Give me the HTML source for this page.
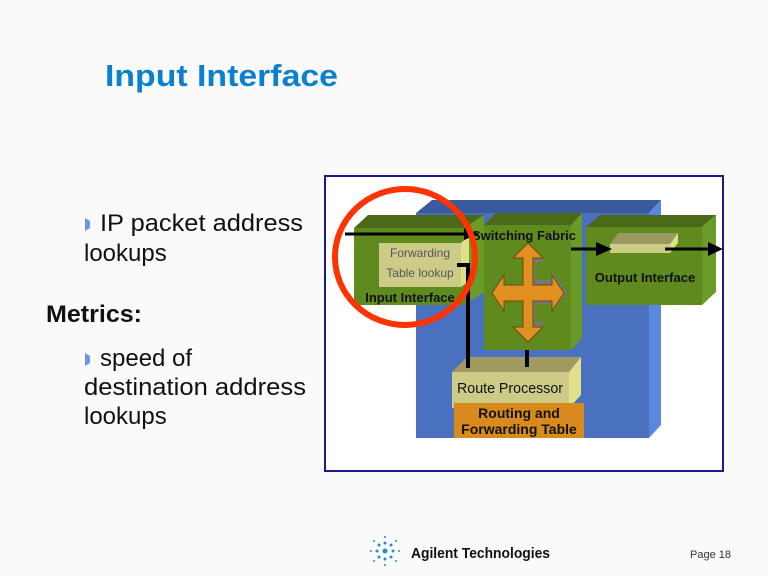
<!DOCTYPE html>
<html><head><style>
html,body{margin:0;padding:0;background:#fafafa;}
svg{display:block;}
</style></head><body>
<svg width="768" height="576" viewBox="0 0 768 576" xmlns="http://www.w3.org/2000/svg" font-family="Liberation Sans, sans-serif">
<rect width="768" height="576" fill="#fafafa"/>
<text x="105" y="86" font-size="31" font-weight="bold" fill="#0a80d0" textLength="233" lengthAdjust="spacingAndGlyphs">Input Interface</text>
<g font-size="24" fill="#111">
<path d="M85 218 L90 221 L90 228 L85 231 Z" fill="#6a9ae0"/>
<text x="100" y="231" textLength="203" lengthAdjust="spacingAndGlyphs">IP packet address</text>
<text x="84" y="261">lookups</text>
<text x="46" y="322" font-weight="bold" font-size="24" textLength="96" lengthAdjust="spacingAndGlyphs">Metrics:</text>
<path d="M85 353 L90 356 L90 363 L85 366 Z" fill="#6a9ae0"/>
<text x="100" y="366">speed of</text>
<text x="84" y="395" textLength="222" lengthAdjust="spacingAndGlyphs">destination address</text>
<text x="84" y="424">lookups</text>
</g>
<rect x="325" y="176" width="398" height="295" fill="#fff" stroke="#1a1a8a" stroke-width="2"/>
<polygon points="416,213 432,200 661,200 649,213" fill="#3a5a9e"/>
<polygon points="649,213 661,200 661,425 649,438" fill="#5a88e0"/>
<rect x="416" y="213" width="233" height="225" fill="#4a70c0"/>
<polygon points="354,228 368,215 484,215 470,228" fill="#4a6a1a"/>
<polygon points="464,228 484,215 484,292 464,305" fill="#6a9a28"/>
<rect x="354" y="228" width="112" height="77" fill="#5e8a1e"/>
<polygon points="461,243 469,236 469,281 461,287" fill="#e0e08a"/>
<rect x="379" y="243" width="82" height="44" fill="#cccc88"/>
<text x="420" y="257" font-size="12" fill="#555" text-anchor="middle">Forwarding</text>
<text x="420" y="277" font-size="12" fill="#555" text-anchor="middle">Table lookup</text>
<text x="410" y="302" font-size="13" font-weight="bold" fill="#111" text-anchor="middle">Input Interface</text>
<polygon points="484,225 496,213 582,213 571,225" fill="#4a6a1a"/>
<polygon points="571,225 582,213 582,338 571,350" fill="#6a9a28"/>
<rect x="484" y="225" width="87" height="125" fill="#5e8a1e"/>
<text x="524" y="240" font-size="13" font-weight="bold" fill="#111" text-anchor="middle">Switching Fabric</text>
<polygon points="533,248 545,262 535,262 535,280 552,280 552,272 567,292 552,312 552,304 535,304 535,322 545,322 533,336" fill="#777"/>
<polygon points="528,243 543,258 533,258 533,285 552,285 552,275 564,293 552,311 552,301 533,301 533,327 543,327 528,342 513,327 523,327 523,301 504,301 504,311 492,293 504,275 504,285 523,285 523,258 513,258" fill="#e09020" stroke="#6a4a10" stroke-width="1"/>
<polygon points="586,227 600,215 716,215 702,227" fill="#4a6a1a"/>
<polygon points="702,227 716,215 716,292 702,305" fill="#6a9a28"/>
<rect x="586" y="227" width="116" height="78" fill="#5e8a1e"/>
<polygon points="610,244 618,233 678,233 670,244" fill="#9a9a60"/>
<polygon points="670,244 678,233 678,243 670,253" fill="#e0e08a"/>
<rect x="610" y="244" width="60" height="9" fill="#cccc88"/>
<text x="645" y="282" font-size="13" font-weight="bold" fill="#111" text-anchor="middle">Output Interface</text>
<polygon points="452,372 467,357 581,357 569,372" fill="#a09a60"/>
<polygon points="569,372 581,357 581,395 569,408" fill="#e0e08a"/>
<rect x="452" y="372" width="117" height="36" fill="#cccc88"/>
<text x="510" y="393" font-size="15" fill="#111" text-anchor="middle" textLength="106" lengthAdjust="spacingAndGlyphs">Route Processor</text>
<rect x="454" y="403" width="130" height="35" fill="#d88a1c"/>
<text x="519" y="418" font-size="14" font-weight="bold" fill="#111" text-anchor="middle">Routing and</text>
<text x="519" y="434" font-size="14" font-weight="bold" fill="#111" text-anchor="middle">Forwarding Table</text>
<line x1="345" y1="234" x2="466" y2="234" stroke="#000" stroke-width="3"/>
<polygon points="464,228 479,234 464,240" fill="#000"/>
<path d="M457 265 L468 265 L468 368" fill="none" stroke="#000" stroke-width="4"/>
<line x1="527" y1="350" x2="527" y2="367" stroke="#000" stroke-width="4"/>
<line x1="571" y1="249" x2="598" y2="249" stroke="#000" stroke-width="3"/>
<polygon points="596,242 612,249 596,256" fill="#000"/>
<line x1="665" y1="249" x2="710" y2="249" stroke="#000" stroke-width="3"/>
<polygon points="708,242 723,249 708,256" fill="#000"/>
<ellipse cx="405" cy="257" rx="70" ry="68" fill="none" stroke="#ff3300" stroke-width="6"/>
<g fill="#2a8ad8">
<circle cx="385" cy="551" r="2.5"/>
<circle cx="377" cy="551" r="1.5"/><circle cx="393" cy="551" r="1.5"/>
<circle cx="385" cy="543" r="1.5"/><circle cx="385" cy="559" r="1.5"/>
<circle cx="379" cy="545" r="1.5"/><circle cx="391" cy="545" r="1.5"/>
<circle cx="379" cy="557" r="1.5"/><circle cx="391" cy="557" r="1.5"/>
<circle cx="371" cy="551" r="1"/><circle cx="399" cy="551" r="1"/>
<circle cx="385" cy="537" r="1"/><circle cx="385" cy="565" r="1"/>
<circle cx="374" cy="541" r="1"/><circle cx="396" cy="541" r="1"/>
<circle cx="374" cy="561" r="1"/><circle cx="396" cy="561" r="1"/>
</g>
<text x="411" y="558" font-size="15" font-weight="bold" fill="#111" textLength="139" lengthAdjust="spacingAndGlyphs">Agilent Technologies</text>
<text x="690" y="558" font-size="11" fill="#333">Page 18</text>
</svg>
</body></html>
